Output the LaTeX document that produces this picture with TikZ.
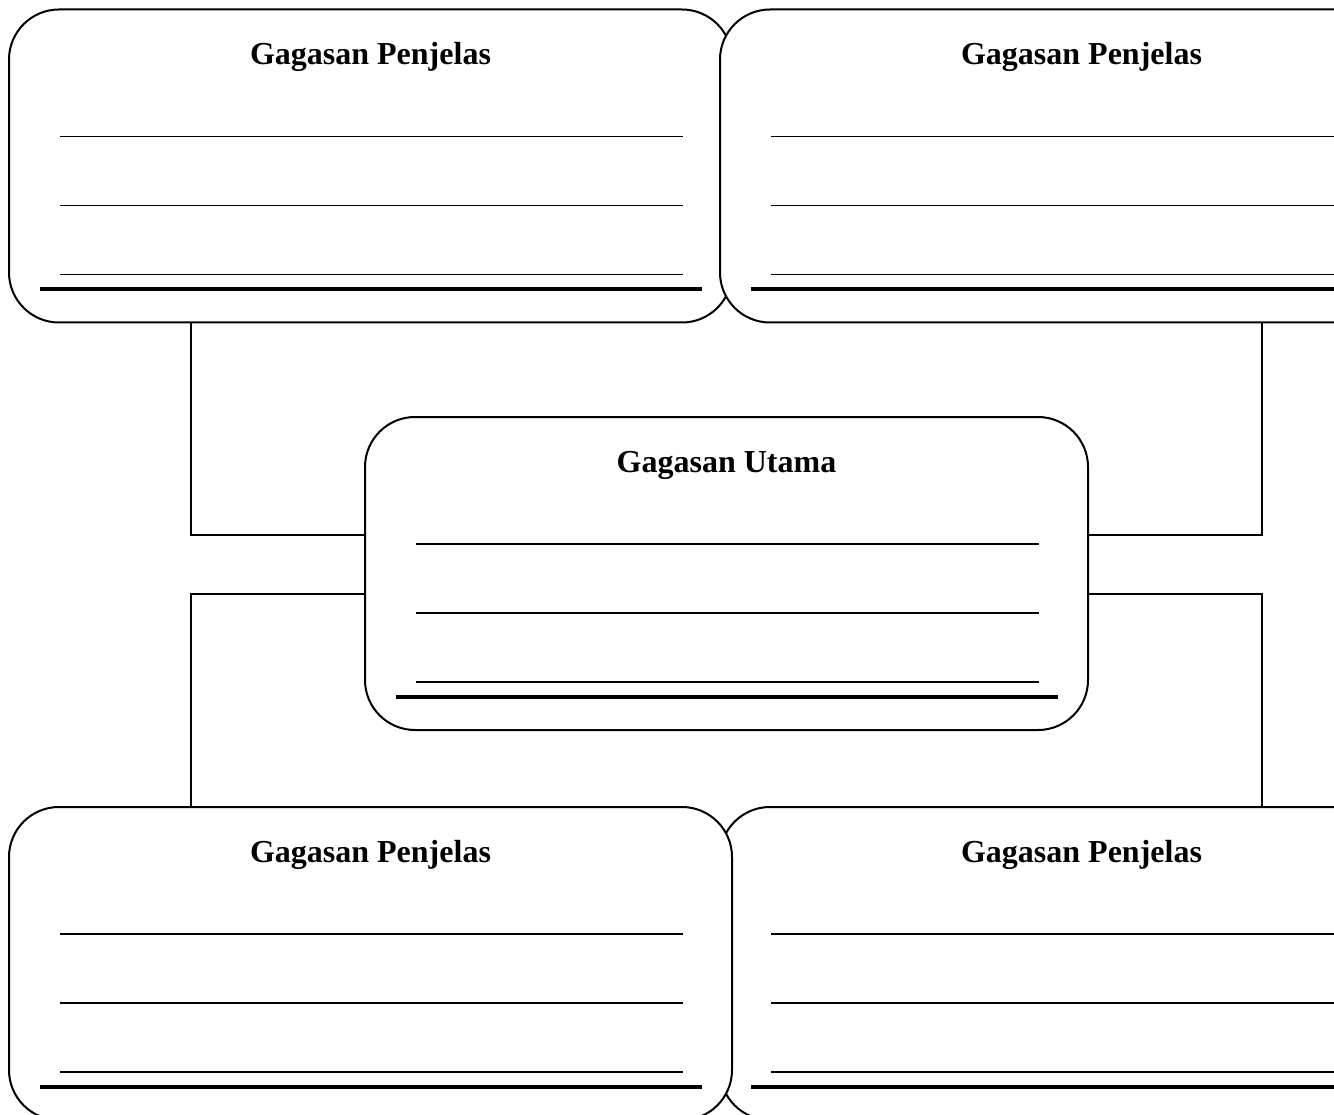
\documentclass[tikz,border=0pt]{standalone}
\usepackage{fontspec}
\setmainfont{Liberation Serif}
\usetikzlibrary{calc}
\tikzset{
  gbox/.style={draw, line width=2pt, fill=white, rounded corners=50pt,
    minimum width=723pt, minimum height=313pt, inner sep=0pt, outer sep=0pt},
  gtitle/.style={anchor=base, inner sep=0pt, font=\fontsize{32}{38}\selectfont\bfseries},
  wline/.style={line width=1.3pt},
  tline/.style={line width=4pt},
  conn/.style={line width=1.6pt}
}
\newcommand{\gblines}[1]{%
  \draw[wline] ($(#1.north west)+(51,127)$) -- ++(623,0);
  \draw[wline] ($(#1.north west)+(51,196)$) -- ++(623,0);
  \draw[wline] ($(#1.north west)+(51,265)$) -- ++(623,0);
  \draw[tline] ($(#1.north west)+(31,280)$) -- ++(662,0);
}
\begin{document}
\begin{tikzpicture}[x=1pt,y=-1pt]
\useasboundingbox (0,0) rectangle (1334,1115);
\clip (0,0) rectangle (1334,1115);
% joint coordinates
\coordinate (lx) at (191,0);
\coordinate (rx) at (1262,0);
\coordinate (cl1) at (365,535);
\coordinate (cl2) at (365,594);
\coordinate (cr1) at (1088,535);
\coordinate (cr2) at (1088,594);
% boxes (positions)
\path (370.5,166) coordinate (pTL) (1081.5,166) coordinate (pTR)
      (726.5,573.5) coordinate (pC) (370.5,963.5) coordinate (pBL)
      (1081.5,963.5) coordinate (pBR);
% connectors
\draw[conn] (lx |- 0,322) |- (cl1);
\draw[conn] (lx |- 0,807) |- (cl2);
\draw[conn] (rx |- 0,322) |- (cr1);
\draw[conn] (rx |- 0,807) |- (cr2);
% top-left
\node[gbox] (TL) at (pTL) {};
\gblines{TL}
\node[gtitle] (tTL) at ($(TL.north)+(0,55)$) {Gagasan Penjelas};
% top-right
\node[gbox] (TR) at (pTR) {};
\gblines{TR}
\node[gtitle] (tTR) at ($(TR.north)+(0,55)$) {Gagasan Penjelas};
% center
\node[gbox] (C) at (pC) {};
\gblines{C}
\node[gtitle] (tC) at ($(C.north)+(0,55)$) {Gagasan Utama};
% bottom-right
\node[gbox] (BR) at (pBR) {};
\gblines{BR}
\node[gtitle] (tBR) at ($(BR.north)+(0,55)$) {Gagasan Penjelas};
% bottom-left
\node[gbox] (BL) at (pBL) {};
\gblines{BL}
\node[gtitle] (tBL) at ($(BL.north)+(0,55)$) {Gagasan Penjelas};
\end{tikzpicture}
\end{document}
